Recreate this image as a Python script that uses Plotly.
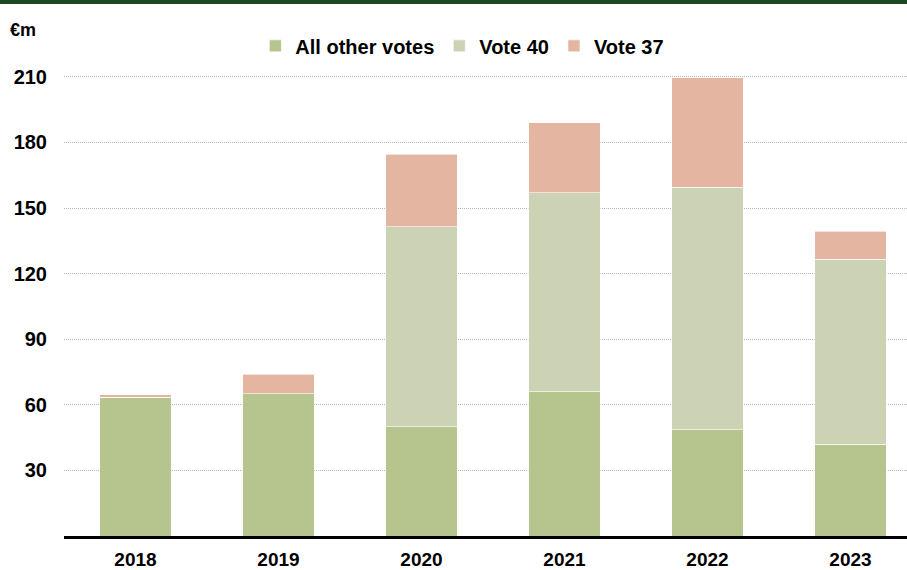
import plotly.graph_objects as go

years = ["2018", "2019", "2020", "2021", "2022", "2023"]
all_other = [63.5, 65, 50, 66, 48.5, 42]
vote40 = [0, 0, 91.5, 91, 111, 84.5]
vote37 = [1, 9, 33, 32, 50, 13]
ytick_vals = [30, 60, 90, 120, 150, 180, 210]

FONT = "Liberation Sans, Arial, sans-serif"

fig = go.Figure()
for name, vals, col in [("All other votes", all_other, "#b5c58d"),
                        ("Vote 40", vote40, "#ccd3b5"),
                        ("Vote 37", vote37, "#e4b5a0")]:
    fig.add_trace(go.Bar(x=years, y=vals, name=name, marker_color=col,
                         marker_line=dict(color="white", width=0.6)))

fig.update_layout(
    barmode="stack", bargap=0.5,
    width=907, height=570,
    margin=dict(l=64, r=0, t=55, b=34),
    plot_bgcolor="white", paper_bgcolor="white",
    font=dict(family=FONT, size=20, color="black"),
    showlegend=True,
    legend=dict(orientation="h", x=0.227, xanchor="left", y=1.019, yanchor="middle",
                font=dict(size=20, family=FONT, weight="bold"), traceorder="normal",
                itemwidth=30, bgcolor="rgba(0,0,0,0)"),
    xaxis=dict(range=[-0.5, 5.395], showgrid=False, showline=True, linecolor="black",
               linewidth=2.5, ticks="", tickfont=dict(size=19, weight="bold"),
               ticklabelstandoff=4, automargin=False, fixedrange=True),
    yaxis=dict(range=[0, 220], tickvals=ytick_vals, showgrid=True,
               gridcolor="#b8b8b8", griddash="1px,1px", gridwidth=1, zeroline=False,
               showline=False, ticks="", tickfont=dict(size=20, weight="bold"),
               ticklabelstandoff=16, automargin=False, fixedrange=True),
)
fig.add_annotation(text="<b>€m</b>", xref="paper", yref="paper",
                   x=-0.066, y=1.114 - 30/481, xanchor="left", yanchor="middle",
                   showarrow=False, font=dict(size=18, family=FONT))
fig.add_shape(type="rect", xref="paper", yref="paper", x0=-0.1, x1=1.1,
              y0=1.1143 - 4/481, y1=1.12, fillcolor="#1e4620", line_width=0)
fig.write_html("out.html", config={"displayModeBar": False},
               post_script="document.body.style.margin='0';")
